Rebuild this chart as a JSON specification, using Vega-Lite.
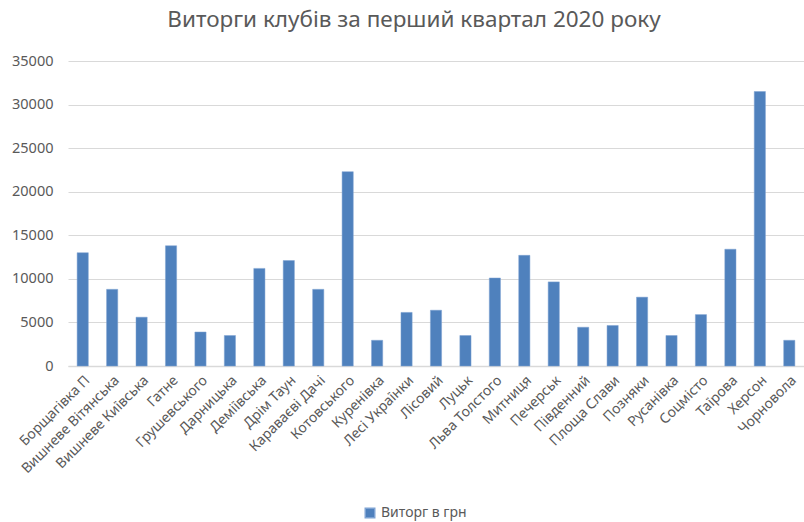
{
  "$schema": "https://vega.github.io/schema/vega-lite/v6.json",
  "width": 736,
  "height": 305,
  "autosize": "none",
  "padding": {"left": 68, "top": 61, "right": 0, "bottom": 156},
  "background": "white",
  "title": {
    "text": "Виторги клубів за перший квартал 2020 року",
    "fontSize": 22.5,
    "font": "Noto Sans",
    "fontWeight": "normal",
    "color": "#595959",
    "offset": 22,
    "dx": -22
  },
  "data": {
    "values": [
      {"club": "Борщагівка П", "v": 13000},
      {"club": "Вишневе Вітянська", "v": 8800},
      {"club": "Вишневе Київська", "v": 5600},
      {"club": "Гатне", "v": 13800},
      {"club": "Грушевського", "v": 3900},
      {"club": "Дарницька", "v": 3500},
      {"club": "Деміївська", "v": 11200},
      {"club": "Дрім Таун", "v": 12100},
      {"club": "Караваєві Дачі", "v": 8800},
      {"club": "Котовського", "v": 22300},
      {"club": "Куренівка", "v": 2950},
      {"club": "Лесі Українки", "v": 6150},
      {"club": "Лісовий", "v": 6400},
      {"club": "Луцьк", "v": 3500},
      {"club": "Льва Толстого", "v": 10100},
      {"club": "Митниця", "v": 12700},
      {"club": "Печерськ", "v": 9650},
      {"club": "Південний", "v": 4450},
      {"club": "Площа Слави", "v": 4650},
      {"club": "Позняки", "v": 7900},
      {"club": "Русанівка", "v": 3500},
      {"club": "Соцмісто", "v": 5900},
      {"club": "Таїрова", "v": 13400},
      {"club": "Херсон", "v": 31500},
      {"club": "Чорновола", "v": 2950}
    ]
  },
  "mark": {"type": "bar", "stroke": "#7ea3d3", "strokeWidth": 0.5},
  "encoding": {
    "x": {
      "field": "club",
      "type": "nominal",
      "sort": null,
      "title": null,
      "scale": {"paddingInner": 0.62, "paddingOuter": 0.31},
      "axis": {
        "labelAngle": -45,
        "labelFontSize": 14,
        "labelFont": "Noto Sans",
        "labelColor": "#595959",
        "ticks": false,
        "domainColor": "#d9d9d9",
        "domainWidth": 1.5,
        "labelPadding": 7
      }
    },
    "y": {
      "field": "v",
      "type": "quantitative",
      "title": null,
      "scale": {"domain": [0, 35000]},
      "axis": {
        "values": [0, 5000, 10000, 15000, 20000, 25000, 30000, 35000],
        "format": "d",
        "labelFontSize": 14.5,
        "labelFont": "Noto Sans",
        "labelColor": "#595959",
        "ticks": false,
        "domain": false,
        "gridColor": "#d9d9d9",
        "gridWidth": 1.2,
        "labelPadding": 15
      }
    },
    "color": {
      "datum": "Виторг в грн",
      "type": "nominal",
      "scale": {"range": ["#4f81bd"]},
      "legend": {
        "title": null,
        "orient": "none",
        "legendX": 295,
        "legendY": 445,
        "symbolType": "square",
        "symbolSize": 90,
        "labelFontSize": 14,
        "labelFont": "Noto Sans",
        "labelColor": "#595959"
      }
    }
  },
  "config": {"view": {"stroke": null}}
}
